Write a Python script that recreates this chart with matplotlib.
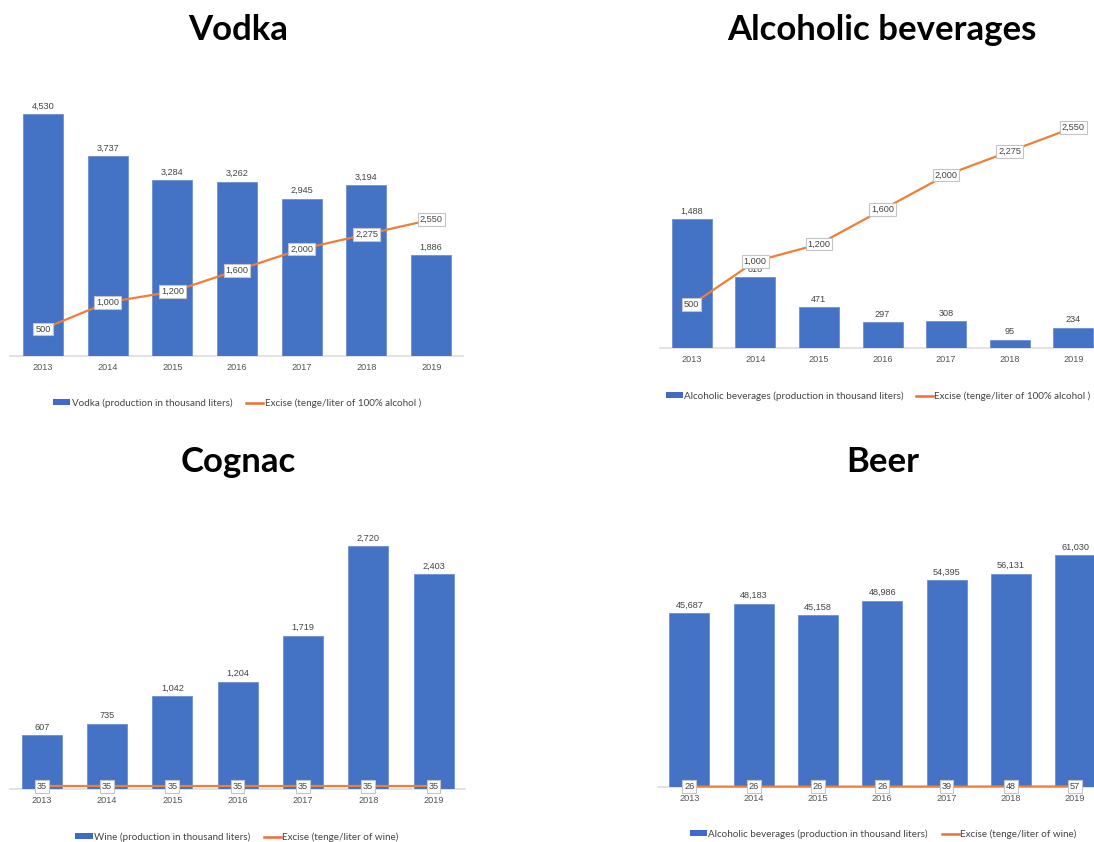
import matplotlib
matplotlib.use("Agg")
import matplotlib.pyplot as plt
from matplotlib.patches import Patch
from matplotlib.lines import Line2D

years = ["2013", "2014", "2015", "2016", "2017", "2018", "2019"]

vodka_production = [4530, 3737, 3284, 3262, 2945, 3194, 1886]
vodka_excise = [500, 1000, 1200, 1600, 2000, 2275, 2550]

alcohol_production = [1488, 818, 471, 297, 308, 95, 234]
alcohol_excise = [500, 1000, 1200, 1600, 2000, 2275, 2550]

wine_production = [607, 735, 1042, 1204, 1719, 2720, 2403]
wine_excise = [35, 35, 35, 35, 35, 35, 35]

beer_production = [45687, 48183, 45158, 48986, 54395, 56131, 61030]
beer_excise = [26, 26, 26, 26, 39, 48, 57]

titles = ["Vodka", "Alcoholic beverages", "Cognac", "Beer"]
bar_labels = [
    "Vodka (production in thousand liters)",
    "Alcoholic beverages (production in thousand liters)",
    "Wine (production in thousand liters)",
    "Alcoholic beverages (production in thousand liters)",
]
line_labels = [
    "Excise (tenge/liter of 100% alcohol )",
    "Excise (tenge/liter of 100% alcohol )",
    "Excise (tenge/liter of wine)",
    "Excise (tenge/liter of wine)",
]

W, H = 1094, 842
BAR = "#4472C4"
LINE = "#EF7E36"
NUM_FONT = "Liberation Sans"
TXT_FONT = "Lato"

fig = plt.figure(figsize=(W / 100, H / 100), dpi=100)


def fx(px):
    return px / W


def fy(py):
    return 1 - py / H


# layout per panel: first bar centre, bar spacing, axes left/right, baseline,
# pixels per unit, axes top, title centre, legend centre, legend column gap
panels = [
    dict(c0=43, s=64.7, L=10, R=463, B=355.7, k=241.7 / 4530, T=85,
         title=(238, 30), leg=(237, 403), gap=1.4),
    dict(c0=691.7, s=63.6, L=660, R=1110, B=347.7, k=128.4 / 1488, T=100,
         title=(882, 30), leg=(878, 396), gap=1.2),
    dict(c0=41.7, s=65.3, L=10, R=465, B=789.3, k=243.3 / 2720, T=520,
         title=(238, 462), leg=(237, 837), gap=1.4),
    dict(c0=689.3, s=64.3, L=658, R=1110, B=786.7, k=231.7 / 61030, T=530,
         title=(883, 462), leg=(883, 834), gap=1.4),
]
series = [
    (vodka_production, vodka_excise),
    (alcohol_production, alcohol_excise),
    (wine_production, wine_excise),
    (beer_production, beer_excise),
]

for p, (prod, exc), title, bl, ll in zip(panels, series, titles, bar_labels, line_labels):
    ax = fig.add_axes([fx(p["L"]), fy(p["B"]), fx(p["R"] - p["L"]), (p["B"] - p["T"]) / H])
    x = list(range(len(years)))
    ax.set_xlim((p["L"] - p["c0"]) / p["s"], (p["R"] - p["c0"]) / p["s"])
    ax.set_ylim(0, (p["B"] - p["T"]) / p["k"])

    width = 40 / p["s"]
    ax.bar(x, prod, width=width, color=BAR, edgecolor="#6d8fd3", linewidth=0.6, zorder=2)
    ax.plot(x, exc, color=LINE, linewidth=1.6, zorder=3, clip_on=False)

    for xi, v in zip(x, prod):
        ax.annotate(f"{v:,}", (xi, v), xytext=(0, 2.5), textcoords="offset points",
                    ha="center", va="bottom", fontsize=6.6, color="#444444",
                    family=NUM_FONT, zorder=4)
    for xi, v in zip(x, exc):
        ax.annotate(f"{v:,}", (xi, v), ha="center", va="center", fontsize=6.6,
                    color="#444444", family=NUM_FONT, zorder=5,
                    bbox=dict(boxstyle="square,pad=0.2", fc="white", ec="#c4c4c4", lw=0.8))

    for side in ("top", "left", "right"):
        ax.spines[side].set_visible(False)
    ax.spines["bottom"].set_color("#dddddd")
    ax.spines["bottom"].set_linewidth(1.2)
    ax.spines["bottom"].set_zorder(1)
    ax.set_yticks([])
    ax.set_xticks(x)
    ax.set_xticklabels(years, fontsize=6.6, color="#555555", family=NUM_FONT)
    ax.tick_params(axis="x", length=0, pad=5)
    ax.patch.set_alpha(0)

    fig.text(fx(p["title"][0]), fy(p["title"][1]), title, ha="center", va="center",
             fontsize=25, fontweight="bold", family=TXT_FONT, color="black")

    handles = [Patch(facecolor="#3d6acb", edgecolor="none"),
               Line2D([0], [0], color="#F26B3A", lw=1.8)]
    fig.legend(handles, [bl, ll], loc="center", ncol=2, frameon=False,
               bbox_to_anchor=(fx(p["leg"][0]), fy(p["leg"][1])),
               prop=dict(family=TXT_FONT, size=7.1), labelcolor="#444444",
               handlelength=1.75, handleheight=0.5, handletextpad=0.12,
               columnspacing=p["gap"], borderpad=0)

fig.savefig("out.png", dpi=100)
